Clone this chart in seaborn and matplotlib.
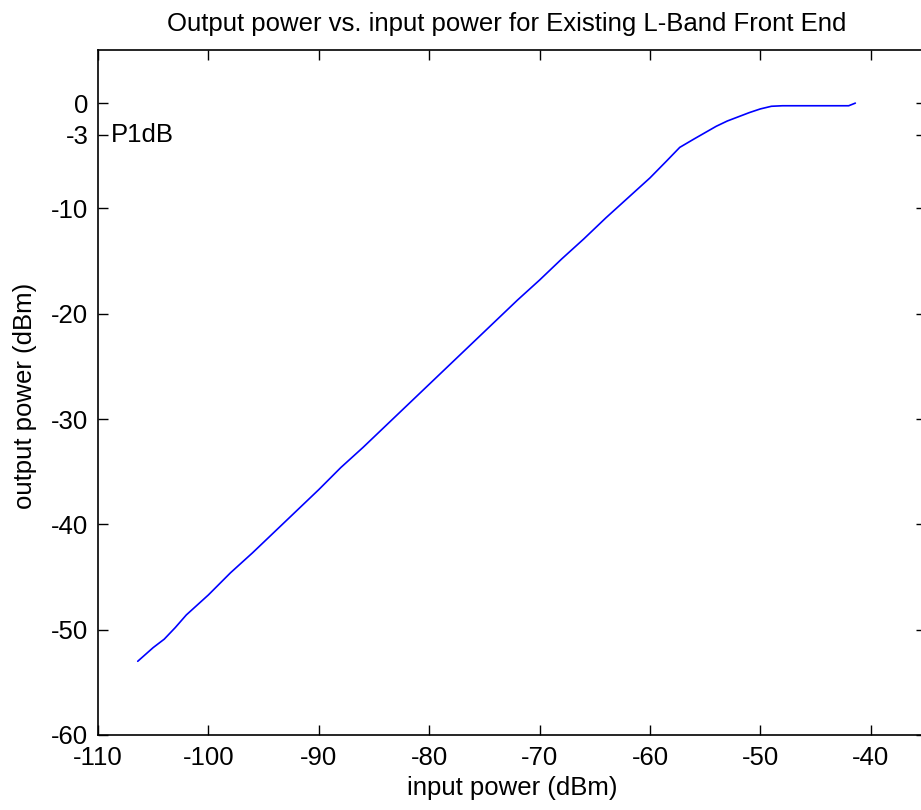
import matplotlib
matplotlib.use("Agg")
import matplotlib.pyplot as plt
import seaborn as sns
import pandas as pd

# Valeurs
input_power = [-106.4, -105.0, -104.0, -103.0, -102.0, -100.0, -98.0, -96.0,
               -94.0, -92.0, -90.0, -88.0, -86.0, -84.0, -82.0, -80.0, -78.0,
               -76.0, -74.0, -72.0, -70.0, -68.0, -66.0, -64.0, -62.0, -60.0,
               -58.5, -57.3, -56.0, -55.0, -54.0, -53.0, -52.0, -51.0, -50.0,
               -49.0, -48.0, -46.0, -44.0, -42.0, -41.4]
output_power = [-53.0, -51.7, -50.9, -49.8, -48.6, -46.7, -44.6, -42.7,
                -40.7, -38.7, -36.7, -34.6, -32.7, -30.7, -28.7, -26.7, -24.7,
                -22.7, -20.7, -18.7, -16.8, -14.8, -12.9, -10.9, -9.0, -7.1,
                -5.5, -4.2, -3.4, -2.8, -2.2, -1.7, -1.3, -0.9, -0.55,
                -0.3, -0.25, -0.25, -0.25, -0.25, 0.0]

x_ticks = [-110, -100, -90, -80, -70, -60, -50, -40]
y_ticks = [-60, -50, -40, -30, -20, -10, -3, 0]

df = pd.DataFrame({"input": input_power, "output": output_power})

sns.set_style("ticks")
plt.rcParams['font.family'] = ['Liberation Sans', 'DejaVu Sans']
plt.rcParams['axes.unicode_minus'] = False
plt.rcParams['text.color'] = 'black'
plt.rcParams['axes.labelcolor'] = 'black'

fs = 18.5

fig = plt.figure(figsize=(9.21, 8.10), dpi=100)
ax = fig.add_axes([0.1064, 0.0926, 0.899, 0.8451])

sns.lineplot(data=df, x="input", y="output", color="blue", linewidth=1.2,
             estimator=None, sort=False, ax=ax)

ax.set_xlim(-110, -35)
ax.set_ylim(-60, 5)
ax.set_xticks(x_ticks)
ax.set_yticks(y_ticks)
ax.tick_params(direction="in", top=True, right=True, length=7, width=1,
               labelsize=fs, colors="black")
ax.tick_params(axis="x", pad=8)
ax.tick_params(axis="y", pad=7)
for s in ax.spines.values():
    s.set_linewidth(1.2)
    s.set_color("black")

ax.text(-108.8, -3, "P1dB", fontsize=fs, va="center", ha="left")

ax.set_xlabel("input power (dBm)", fontsize=fs, labelpad=4)
ax.set_ylabel("output power (dBm)", fontsize=fs)
ax.yaxis.set_label_coords(-0.074, 0.495)
ax.set_title("Output power vs. input power for Existing L-Band Front End",
             fontsize=fs, pad=14, x=0.4935)

plt.savefig("out.png", dpi=100)
